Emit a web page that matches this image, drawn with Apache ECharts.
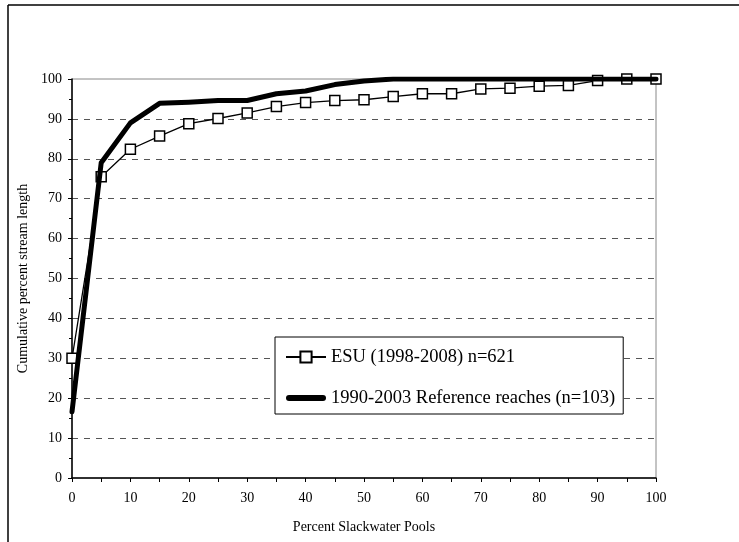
<!DOCTYPE html>
<html>
<head>
<meta charset="utf-8">
<script src="https://cdn.jsdelivr.net/npm/echarts@6/dist/echarts.min.js"></script>
<style>
  html, body { margin: 0; padding: 0; background: #fff; }
  #chart { width: 739px; height: 542px; }
</style>
</head>
<body>
<div id="chart"></div>
<script>
// percent slackwater pools (x)
var poolPct = [0, 5, 10, 15, 20, 25, 30, 35, 40, 45, 50, 55, 60, 65, 70, 75, 80, 85, 90, 95, 100];
// ESU (1998-2008) n=621
var esuVals = [30, 75.5, 82.4, 85.7, 88.8, 90.1, 91.5, 93.1, 94.1, 94.6, 94.8, 95.6, 96.3, 96.3, 97.5, 97.7, 98.2, 98.4, 99.6, 100, 100];
// 1990-2003 Reference reaches (n=103)
var refVals = [16.6, 79.0, 89.0, 93.9, 94.2, 94.6, 94.6, 96.3, 97.0, 98.6, 99.5, 100, 100, 100, 100, 100, 100, 100, 100, 100, 100];
var seriesNames = ['ESU (1998-2008) n=621', '1990-2003 Reference reaches (n=103)'];

function pairs(vals) {
    return poolPct.map(function (x, i) { return [x, vals[i]]; });
}

var font = '"Liberation Serif", "Times New Roman", serif';
var chart = echarts.init(document.getElementById('chart'));

// thick bar with round ends for the reference legend entry
var thickIcon = 'path://M3,0 L37,0 A3,3 0 0 1 37,6 L3,6 A3,3 0 0 1 3,0 Z';

var option = {
    animation: false,
    backgroundColor: '#fff',
    textStyle: { fontFamily: font, color: '#000' },
    grid: {
        left: 72, right: 83, top: 79, bottom: 64,
        show: true, borderColor: '#888', borderWidth: 1
    },
    legend: {
        orient: 'vertical',
        left: 275, top: 337,
        padding: [10, 8, 6, 10],
        itemGap: 21,
        itemWidth: 40,
        itemHeight: 14,
        backgroundColor: '#fff',
        borderColor: '#000',
        borderWidth: 1,
        borderRadius: 0,
        textStyle: { fontFamily: font, fontSize: 18.5, color: '#000', lineHeight: 20 },
        data: [
            { name: seriesNames[0] },
            { name: seriesNames[1], icon: thickIcon, itemStyle: { color: '#000', borderWidth: 0 } }
        ]
    },
    xAxis: {
        type: 'value',
        min: 0, max: 100, interval: 10,
        name: 'Percent Slackwater Pools',
        nameLocation: 'middle',
        nameGap: 42,
        nameTextStyle: { fontFamily: font, fontSize: 14, color: '#000' },
        axisLine: { lineStyle: { color: '#000', width: 1.5 } },
        axisTick: { show: true, length: 4, lineStyle: { color: '#000' } },
        minorTick: { show: true, splitNumber: 2, length: 4, lineStyle: { color: '#000' } },
        axisLabel: { fontFamily: font, fontSize: 14, color: '#000', margin: 13 },
        splitLine: { show: false }
    },
    yAxis: {
        type: 'value',
        min: 0, max: 100, interval: 10,
        name: 'Cumulative percent stream length',
        nameLocation: 'middle',
        nameRotate: 90,
        nameGap: 42,
        nameTextStyle: { fontFamily: font, fontSize: 14, color: '#000' },
        axisLine: { show: true, lineStyle: { color: '#000', width: 1.5 } },
        axisTick: { show: true, length: 4, lineStyle: { color: '#000' } },
        minorTick: { show: true, splitNumber: 2, length: 3, lineStyle: { color: '#000' } },
        axisLabel: { fontFamily: font, fontSize: 14, color: '#000', margin: 10 },
        splitLine: {
            show: true,
            lineStyle: {
                color: ['transparent', '#555', '#555', '#555', '#555', '#555', '#555', '#555', '#555', '#555', 'transparent'],
                type: [6, 6],
                width: 1
            }
        }
    },
    graphic: [
        { type: 'line', shape: { x1: 8, y1: 5, x2: 8, y2: 542 }, style: { stroke: '#000', lineWidth: 1.5 } },
        { type: 'line', shape: { x1: 8, y1: 5, x2: 739, y2: 5 }, style: { stroke: '#000', lineWidth: 1.5 } }
    ],
    series: [{
        name: seriesNames[0],
        type: 'line',
        data: pairs(esuVals),
        symbol: 'rect',
        symbolSize: 10,
        color: '#000',
        lineStyle: { color: '#000', width: 1.3 },
        itemStyle: { color: '#fff', borderColor: '#000', borderWidth: 1.5 },
        z: 2
    }, {
        name: seriesNames[1],
        type: 'line',
        data: pairs(refVals),
        symbol: 'none',
        color: '#000',
        lineStyle: { color: '#000', width: 5, cap: 'round', join: 'round' },
        z: 3
    }]
};
chart.setOption(option);
</script>
</body>
</html>
